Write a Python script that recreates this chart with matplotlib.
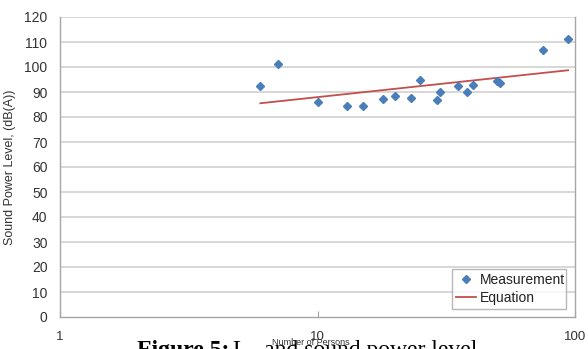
import matplotlib
matplotlib.use("Agg")
import matplotlib.pyplot as plt

# Data
meas_x = [6.0, 7.0, 10.0, 13.0, 15.0, 18.0, 20.0, 23.0, 25.0, 29.0, 30.0,
          35.0, 38.0, 40.0, 50.0, 51.0, 75.0, 94.0]
meas_y = [92.4, 101.2, 85.9, 84.5, 84.4, 87.1, 88.5, 87.7, 94.7, 86.8, 89.9,
          92.5, 89.9, 92.8, 94.3, 93.6, 106.9, 111.2]
eq_x = [6.0, 94.0]
eq_y = [85.5, 98.7]
y_ticks = list(range(0, 121, 10))
x_ticks = [1, 10, 100]
x_tick_labels = ["1", "10", "100"]

W, H = 588, 349
fig = plt.figure(figsize=(W / 100, H / 100), dpi=100)
ax = fig.add_axes([60 / W, (H - 317) / H, (575 - 60) / W, (317 - 17) / H])

ax.set_xscale("log")
ax.set_xlim(1, 100)
ax.set_ylim(0, 120)

for yv in y_ticks[1:]:
    ax.axhline(yv, color="#d4d4d4", lw=1.3, zorder=0)

ax.plot(meas_x, meas_y, linestyle="none", marker="D", markersize=4.5,
        color="#4a7ebb", label="Measurement", zorder=3)
ax.plot(eq_x, eq_y, color="#c0504d", lw=1.3, label="Equation", zorder=2)

ax.set_yticks(y_ticks)
ax.set_xticks(x_ticks)
ax.set_xticklabels(x_tick_labels)
ax.minorticks_off()
ax.tick_params(axis="y", length=0, pad=9, labelsize=10, labelcolor="#333333")
ax.tick_params(axis="x", direction="in", length=4, color="#a0a0a0",
               pad=10, labelsize=9.5, labelcolor="#333333")

for side in ["left", "right", "bottom"]:
    ax.spines[side].set_color("#a6a6a6")
    ax.spines[side].set_linewidth(1.0)
ax.spines["top"].set_visible(False)

ax.set_ylabel("Sound Power Level, (dB(A))", fontsize=9, color="#333333",
              family=["Liberation Sans", "DejaVu Sans"], labelpad=6)
for lab in ax.get_xticklabels() + ax.get_yticklabels():
    lab.set_family(["Liberation Sans", "DejaVu Sans"])

leg = ax.legend(loc="lower left",
                bbox_to_anchor=((452 - 60) / 515, (317 - 309) / 300,
                                (566 - 452) / 515, (309 - 267) / 300),
                mode="expand", fontsize=10, frameon=True, fancybox=False,
                borderpad=0.3, handlelength=1.4, handletextpad=0.3,
                labelspacing=0.3, borderaxespad=0, markerscale=0.8,
                prop={"family": "Liberation Sans", "size": 10})
leg.get_frame().set_edgecolor("#a6a6a6")
leg.get_frame().set_linewidth(1.0)
for t in leg.get_texts():
    t.set_color("#222222")

# Caption overlapping the axis title at the bottom of the image
fig.text(137 / W, -7 / H, "Figure 5:", fontsize=17, fontweight="bold",
         family=["Liberation Serif", "DejaVu Serif"], ha="left", va="baseline")
fig.text(233 / W, -7 / H, "L   and sound power level", fontsize=17,
         family=["Liberation Serif", "DejaVu Serif"], ha="left", va="baseline")
fig.text(311 / W, (H - 345) / H, "Number of Persons", fontsize=6.5,
         color="#333333", family=["Liberation Sans", "DejaVu Sans"],
         ha="center", va="baseline")

fig.savefig("out.png", dpi=100)
